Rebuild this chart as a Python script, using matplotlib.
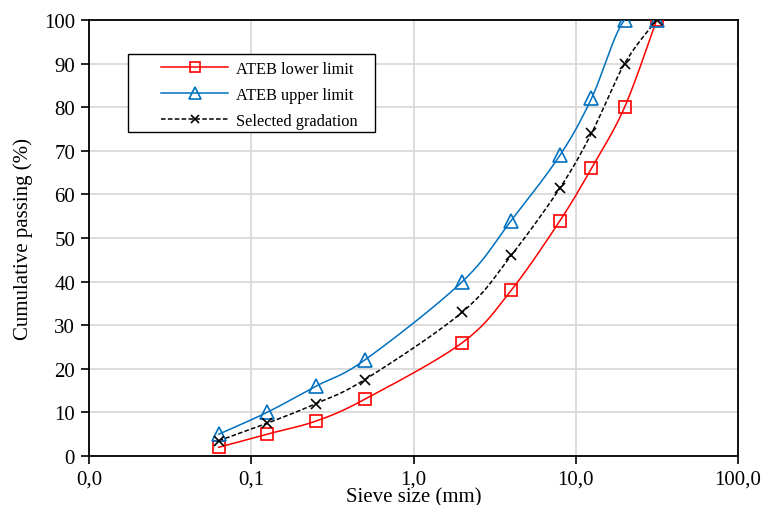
import matplotlib
matplotlib.use("Agg")
import matplotlib.pyplot as plt
from matplotlib.patches import Rectangle
from matplotlib.ticker import FixedLocator, FuncFormatter
import numpy as np

# Sieve sizes (mm) and cumulative passing (%)
sieve_sizes = [0.063, 0.125, 0.25, 0.5, 2.0, 4.0, 8.0, 12.5, 20.0, 31.5]
lower_limit = [2, 5, 8, 13, 26, 38, 54, 66, 80, 100]
upper_limit = [5, 10, 16, 22, 40, 54, 69, 82, 100, 100]
selected = [3.5, 7.5, 12, 17.5, 33, 46, 61.5, 74, 90, 100]

series_names = ["ATEB lower limit", "ATEB upper limit", "Selected gradation"]
x_ticks = [0.01, 0.1, 1, 10, 100]
y_ticks = list(range(0, 101, 10))

plt.rcParams["font.family"] = ["Liberation Serif", "DejaVu Serif"]

W, H = 765, 506


def smooth(xs, ys, n=20):
    # Bezier smoothing (Excel style) done in log-x space
    lx = np.log10(np.asarray(xs, float))
    yv = np.asarray(ys, float)
    pts = np.column_stack([lx, yv])
    out = []
    for i in range(len(pts) - 1):
        p0 = pts[i - 1] if i > 0 else pts[i]
        p1 = pts[i]
        p2 = pts[i + 1]
        p3 = pts[i + 2] if i + 2 < len(pts) else pts[i + 1]
        c1 = p1 + (p2 - p0) / 6.0
        c2 = p2 - (p3 - p1) / 6.0
        t = np.linspace(0, 1, n)[:, None]
        seg = ((1 - t) ** 3 * p1 + 3 * (1 - t) ** 2 * t * c1
               + 3 * (1 - t) * t ** 2 * c2 + t ** 3 * p2)
        out.append(seg if i == 0 else seg[1:])
    out = np.vstack(out)
    return 10 ** out[:, 0], out[:, 1]


fig = plt.figure(figsize=(W / 100, H / 100), dpi=100)
ax = fig.add_axes([89 / W, 1 - 457 / H, (738 - 89) / W, (457 - 21) / H])

styles = [
    dict(color="#ff0000", marker="s", ls="-", ms=9),
    dict(color="#0070c0", marker="^", ls="-", ms=10),
    dict(color="black", marker="x", ls=(0, (3, 1.5)), ms=7),
]

for ys, name, st in zip([lower_limit, upper_limit, selected], series_names, styles):
    sx, sy = smooth(sieve_sizes, ys)
    ax.plot(sx, sy, color=st["color"], ls=st["ls"], lw=1.1, zorder=3)
    ax.plot(sieve_sizes, ys, ls="none", marker=st["marker"], ms=st["ms"],
            mfc="none", mec=st["color"], mew=1.2, zorder=4)
    # legend handle with line and marker together
    ax.plot([], [], color=st["color"], ls=st["ls"], lw=1.1, marker=st["marker"],
            ms=st["ms"] * 0.8, mfc="none", mec=st["color"], mew=1.2, label=name)

ax.set_xscale("log")
ax.set_xlim(0.01, 100)
ax.set_ylim(0, 100)
ax.xaxis.set_major_locator(FixedLocator(x_ticks))
ax.xaxis.set_minor_locator(FixedLocator([]))
ax.xaxis.set_major_formatter(FuncFormatter(lambda v, p: ("%.1f" % v).replace(".", ",")))
ax.set_yticks(y_ticks)

ax.grid(True, color="#d9d9d9", lw=1.3)
ax.set_axisbelow(True)
for sp in ax.spines.values():
    sp.set_color("black")
    sp.set_linewidth(1.3)
ax.tick_params(axis="both", direction="out", length=6, width=1.2, labelsize=15,
               colors="black", pad=4)

ax.set_xlabel("Sieve size (mm)", fontsize=15, labelpad=-1.2)
ax.set_ylabel("Cumulative passing (%)", fontsize=15, labelpad=8)

# legend box drawn separately so the entries sit centred inside it
box = Rectangle((128 / W, 1 - 133 / H), (375 - 128) / W, (133 - 55) / H,
                transform=fig.transFigure, facecolor="white", edgecolor="black",
                lw=1.0, zorder=5, clip_on=False)
ax.add_patch(box)
leg = ax.legend(loc="upper left", bbox_to_anchor=(161 / W, 1 - 62 / H),
                bbox_transform=fig.transFigure, fontsize=11.8, frameon=False,
                handlelength=4.1, borderpad=0, labelspacing=0.6,
                handletextpad=0.5, borderaxespad=0)
leg.set_zorder(6)

fig.savefig("out.png", dpi=100)
